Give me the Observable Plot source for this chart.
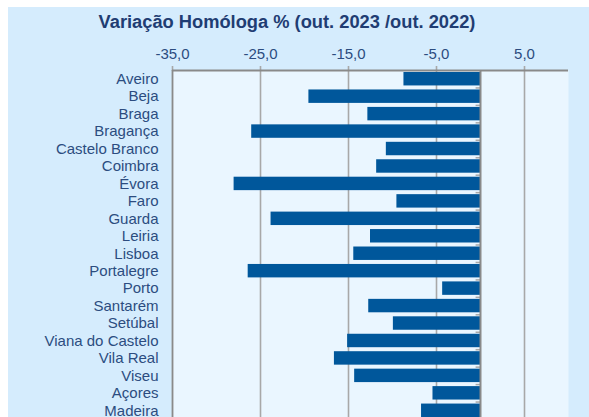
<!DOCTYPE html>
<html>
<head>
<meta charset="utf-8">
<script src="https://cdn.jsdelivr.net/npm/d3@7"></script>
<script src="https://cdn.jsdelivr.net/npm/@observablehq/plot@0.6"></script>
<style>
  html, body { margin: 0; padding: 0; background: #ffffff; }
  #wrap { position: relative; width: 589px; height: 417px; overflow: hidden; }
  #bg { position: absolute; left: 8px; top: 7px; right: 0; bottom: 0; background: #d5ecfd; }
  #title { position: absolute; left: 0; width: 574px; top: 12px; text-align: center;
    font: bold 18.3px "Liberation Sans", Arial, sans-serif; line-height: 20px; color: #1f3d73; white-space: nowrap; }
  #chart { position: absolute; left: 0; top: 0; }
</style>
</head>
<body>
<div id="wrap">
  <div id="bg"></div>
  <div id="chart"></div>
  <div id="title">Variação Homóloga % (out. 2023 /out. 2022)</div>
</div>
<script>
const categories = ["Aveiro","Beja","Braga","Bragança","Castelo Branco","Coimbra","Évora","Faro","Guarda","Leiria","Lisboa","Portalegre","Porto","Santarém","Setúbal","Viana do Castelo","Vila Real","Viseu","Açores","Madeira"];
const values = [-8.7,-19.5,-12.8,-26.0,-10.7,-11.8,-28.0,-9.5,-23.8,-12.5,-14.4,-26.4,-4.3,-12.7,-9.9,-15.1,-16.6,-14.3,-5.4,-6.7];
const xTicks = [-35,-25,-15,-5,5];

const data = categories.map((c, i) => ({name: c, value: values[i]}));

const W = 589, H = 419, mT = 70, mB = 0;
const step = (H - mT - mB) / categories.length;
const fmt = d => d.toFixed(1).replace(".", ",");
const textColor = "#2c4c80";
const gridColor = "#a8a8a8";
const axisColor = "#8a8a8a";

const chart = Plot.plot({
  width: W,
  height: H,
  marginLeft: 172,
  marginRight: 21,
  marginTop: mT,
  marginBottom: mB,
  style: {background: "transparent", fontFamily: "'Liberation Sans', Arial, sans-serif", fontSize: "15px", color: textColor, overflow: "visible"},
  x: {domain: [-35, 10], ticks: xTicks, tickFormat: fmt, axis: null, label: null},
  y: {domain: categories, paddingInner: 0.23, paddingOuter: 0.115, round: false, axis: null, label: null},
  marks: [
    Plot.frame({fill: "#eaf6ff", stroke: "none"}),
    Plot.gridX(xTicks, {stroke: gridColor, strokeOpacity: 1, strokeWidth: 1.6}),
    Plot.axisX(xTicks, {anchor: "top", label: null, tickSize: 5, tickPadding: 7, stroke: gridColor, strokeWidth: 1.6, fill: textColor, fontSize: 15, tickFormat: fmt}),
    Plot.axisY({anchor: "left", label: null, tickSize: 0, tickPadding: 14, fill: textColor, fontSize: 15}),
    Plot.barX(data, {x: "value", y: "name", fill: "#00579b"}),
    Plot.ruleY(categories, {y: d => d, x1: -0.5, x2: 0, dy: step / 2, stroke: gridColor, strokeWidth: 1.5}),
    Plot.ruleX([0], {stroke: axisColor, strokeWidth: 2}),
    Plot.ruleX([-35], {stroke: axisColor, strokeWidth: 1.5}),
    Plot.ruleY([categories[0]], {dy: -step / 2, stroke: axisColor, strokeWidth: 2.2})
  ]
});
document.getElementById("chart").appendChild(chart);
</script>
</body>
</html>
